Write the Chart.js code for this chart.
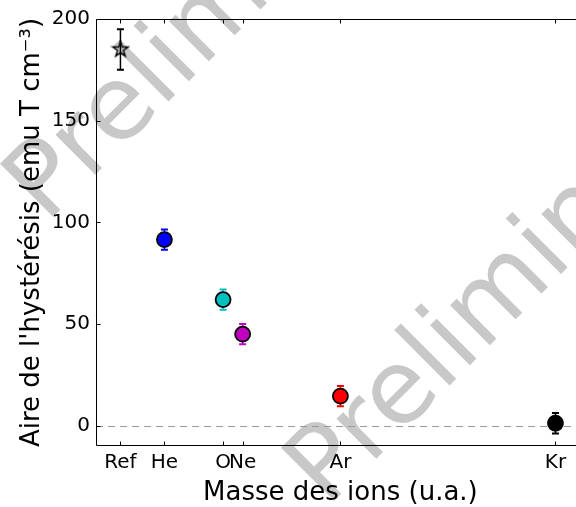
<!DOCTYPE html>
<html>
<head>
<meta charset="utf-8">
<script src="https://cdn.jsdelivr.net/npm/chart.js@4"></script>
<style>
    html, body { margin: 0; padding: 0; overflow: hidden; background: #fff; }
    #wrap { width: 576px; height: 507px; }
</style>
</head>
<body>
<div id="wrap"><canvas id="massChart" width="576" height="507"></canvas></div>
<script>
// data
const ions = ["Ref", "He", "O", "Ne", "Ar", "Kr"];
const masses = [-5, 4, 16, 20, 40, 84];
const areas = [185, 91.5, 62, 45, 14.5, 1.2];
const errors = [10, 5, 5, 5, 5, 5];
const yTicks = [0, 50, 100, 150, 200];
const refLevel = 0;
// the original x axis runs -10..90 but the picture is cut at about 88
const xSpan = [-10, 90];
const xShown = 88.2;
const xTitle = "Masse des ions (u.a.)";

// styles
const faceColors = ["rgba(0,0,0,0)", "#0000ff", "#00bfbf", "#bf00bf", "#ff0000", "#000000"];
const barColors = ["#000000", "#0000ff", "#00bfbf", "#bf00bf", "#ff0000", "#000000"];
const font = "'DejaVu Sans', sans-serif";
const watermarkSpots = [[46, 224], [327, 508]];

// open five-pointed star, like matplotlib's '*' marker
function makeStar(r) {
    const c = document.createElement("canvas");
    const size = Math.ceil(r * 2 + 4);
    c.width = size;
    c.height = size;
    const g = c.getContext("2d");
    g.translate(size / 2, size / 2);
    g.beginPath();
    for (let i = 0; i < 10; i++) {
        const rad = i % 2 === 0 ? r : r * 0.382;
        const a = -Math.PI / 2 + i * Math.PI / 5;
        g.lineTo(rad * Math.cos(a), rad * Math.sin(a));
    }
    g.closePath();
    g.lineWidth = 1.5;
    g.strokeStyle = "#000";
    g.stroke();
    return c;
}
const starMarker = makeStar(8);

const decorations = {
    id: "decorations",
    beforeDraw(chart) {
        // "Preliminary" watermark behind everything
        const g = chart.ctx;
        g.save();
        g.font = "103px " + font;
        g.fillStyle = "#c8c8c8";
        g.textBaseline = "alphabetic";
        watermarkSpots.forEach(([ox, oy]) => {
            g.save();
            g.translate(ox, oy);
            g.rotate(-Math.PI / 4);
            g.fillText("Preliminary", 0, 0);
            g.restore();
        });
        g.restore();
    },
    beforeDatasetsDraw(chart) {
        const g = chart.ctx;
        const xs = chart.scales.x;
        const ys = chart.scales.y;
        const area = chart.chartArea;

        // dashed zero line
        g.save();
        g.strokeStyle = "#999999";
        g.lineWidth = 1.2;
        g.setLineDash([7, 5]);
        const y0 = Math.round(ys.getPixelForValue(refLevel)) + 0.5;
        g.beginPath();
        g.moveTo(area.left, y0);
        g.lineTo(area.right, y0);
        g.stroke();
        g.restore();

        // error bars with caps
        g.save();
        masses.forEach((m, i) => {
            const x = xs.getPixelForValue(m);
            const top = ys.getPixelForValue(areas[i] + errors[i]);
            const bot = ys.getPixelForValue(areas[i] - errors[i]);
            g.strokeStyle = barColors[i];
            g.lineWidth = 1.5;
            g.beginPath();
            g.moveTo(x, top);
            g.lineTo(x, bot);
            g.stroke();
            g.lineWidth = 2;
            g.beginPath();
            g.moveTo(x - 3.5, top);
            g.lineTo(x + 3.5, top);
            g.moveTo(x - 3.5, bot);
            g.lineTo(x + 3.5, bot);
            g.stroke();
        });
        g.restore();
    },
    afterDraw(chart) {
        const g = chart.ctx;
        const xs = chart.scales.x;
        const ys = chart.scales.y;
        const a = chart.chartArea;
        g.save();
        g.strokeStyle = "#000";
        g.lineWidth = 1;
        const L = Math.round(a.left) + 0.5;
        const T = Math.round(a.top) + 0.5, B = Math.round(a.bottom) - 0.5;
        // left, top and bottom spines (the right one is outside the picture)
        g.beginPath();
        g.moveTo(a.right, T); g.lineTo(L, T); g.lineTo(L, B); g.lineTo(a.right, B);
        g.stroke();
        // inward ticks
        g.beginPath();
        masses.forEach(m => {
            const x = Math.round(xs.getPixelForValue(m)) + 0.5;
            g.moveTo(x, B); g.lineTo(x, B - 4);
            g.moveTo(x, T); g.lineTo(x, T + 4);
        });
        yTicks.forEach(v => {
            const y = Math.round(ys.getPixelForValue(v)) + 0.5;
            g.moveTo(L, y); g.lineTo(L + 4, y);
        });
        g.stroke();

        // x axis title, centred on the full original axis
        g.font = "26px " + font;
        g.fillStyle = "#000";
        g.textAlign = "center";
        g.textBaseline = "alphabetic";
        g.fillText(xTitle, xs.getPixelForValue((xSpan[0] + xSpan[1]) / 2), chart.height - 7);
        g.restore();
    }
};

const ctx = document.getElementById("massChart").getContext("2d");

new Chart(ctx, {
    type: "scatter",
    data: {
        datasets: [{
            label: "Aire de l'hystérésis",
            data: masses.map((m, i) => ({ x: m, y: areas[i] })),
            pointStyle: ions.map((n, i) => i === 0 ? starMarker : "circle"),
            pointRadius: 7.5,
            pointHoverRadius: 7.5,
            pointBackgroundColor: faceColors,
            pointBorderColor: "#000",
            pointBorderWidth: 1.8,
            showLine: false
        }]
    },
    options: {
        responsive: false,
        animation: false,
        events: [],
        layout: { autoPadding: false, padding: { top: 19, left: 0, right: 0, bottom: 0 } },
        plugins: {
            legend: { display: false },
            tooltip: { enabled: false }
        },
        scales: {
            x: {
                type: "linear",
                min: xSpan[0],
                max: xShown,
                afterBuildTicks: scale => { scale.ticks = masses.map(v => ({ value: v })); },
                afterFit: scale => {
                    scale.height = 61;
                    scale.paddingLeft = 0;
                    scale.paddingRight = 0;
                },
                grid: { display: false, drawTicks: false },
                border: { display: false },
                ticks: {
                    autoSkip: false,
                    maxRotation: 0,
                    padding: 5,
                    color: "#000",
                    font: { family: font, size: 20 },
                    callback: value => ions[masses.indexOf(value)]
                },
                title: { display: false }
            },
            y: {
                min: -10,
                max: 200,
                afterBuildTicks: scale => { scale.ticks = yTicks.map(v => ({ value: v })); },
                afterFit: scale => {
                    scale.width = 96;
                    scale.paddingTop = 0;
                    scale.paddingBottom = 0;
                },
                grid: { display: false, drawTicks: false },
                border: { display: false },
                ticks: {
                    padding: 6,
                    color: "#000",
                    font: { family: font, size: 20 },
                    callback: value => String(value)
                },
                title: {
                    display: true,
                    text: "Aire de l'hystérésis (emu T cm⁻³)",
                    color: "#000",
                    font: { family: font, size: 26 },
                    padding: { top: 17, bottom: 0 }
                }
            }
        }
    },
    plugins: [decorations]
});
</script>
</body>
</html>
